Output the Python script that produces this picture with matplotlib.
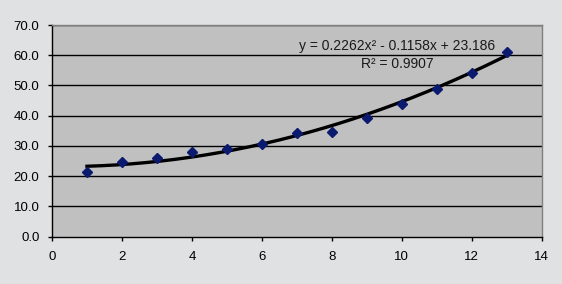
import matplotlib
matplotlib.use("Agg")
import matplotlib.pyplot as plt
import numpy as np

plt.rcParams['font.family'] = ['Liberation Sans', 'DejaVu Sans']

# datos
x_vals = [1, 2, 3, 4, 5, 6, 7, 8, 9, 10, 11, 12, 13]
y_vals = [21.3, 24.6, 25.9, 27.9, 29.0, 30.5, 34.2, 34.7, 39.4, 43.8, 48.7, 54.2, 61.0]

# coeficientes de la linea de tendencia (polinomica orden 2)
coefs = [0.2262, -0.1158, 23.186]
r2 = 0.9907

y_ticks = [0, 10, 20, 30, 40, 50, 60, 70]
x_ticks = [0, 2, 4, 6, 8, 10, 12, 14]

fig = plt.figure(figsize=(5.62, 2.84), dpi=100, facecolor='#e0e1e3')
ax = fig.add_axes([52 / 562, 1 - 236.7 / 284, (541.7 - 52) / 562, (236.7 - 25) / 284])
ax.set_facecolor('#c0c0c0')

for yt in y_ticks[1:]:
    ax.axhline(yt, color='black', lw=1.0, zorder=1)

xs = np.linspace(x_vals[0], x_vals[-1], 200)
ax.plot(xs, np.polyval(coefs, xs), color='black', lw=2.4, zorder=2)
ax.plot(x_vals, y_vals, linestyle='none', marker='D', ms=5.5, color='#0a1a6e', zorder=3)

ax.set_xlim(0, 14)
ax.set_ylim(0, 70)
ax.set_xticks(x_ticks)
ax.set_yticks(y_ticks)
ax.set_yticklabels([f'{v:.1f}' for v in y_ticks])
ax.tick_params(labelsize=9.5, colors='black', length=3, width=1)
ax.tick_params(axis='x', pad=7)
ax.tick_params(axis='y', pad=6)

for side in ['left', 'bottom']:
    ax.spines[side].set_color('black')
    ax.spines[side].set_linewidth(1)
for side in ['top', 'right']:
    ax.spines[side].set_color('#808080')
    ax.spines[side].set_linewidth(1)

eq = f'y = {coefs[0]}x\u00b2 - {abs(coefs[1])}x + {coefs[2]}'
ax.text(9.86, 63.2, eq, fontsize=10, ha='center', va='center', color='#1a1a1a')
ax.text(9.86, 57.2, f'R\u00b2 = {r2}', fontsize=10, ha='center', va='center', color='#1a1a1a')

fig.savefig('out.png', dpi=100, facecolor=fig.get_facecolor())
